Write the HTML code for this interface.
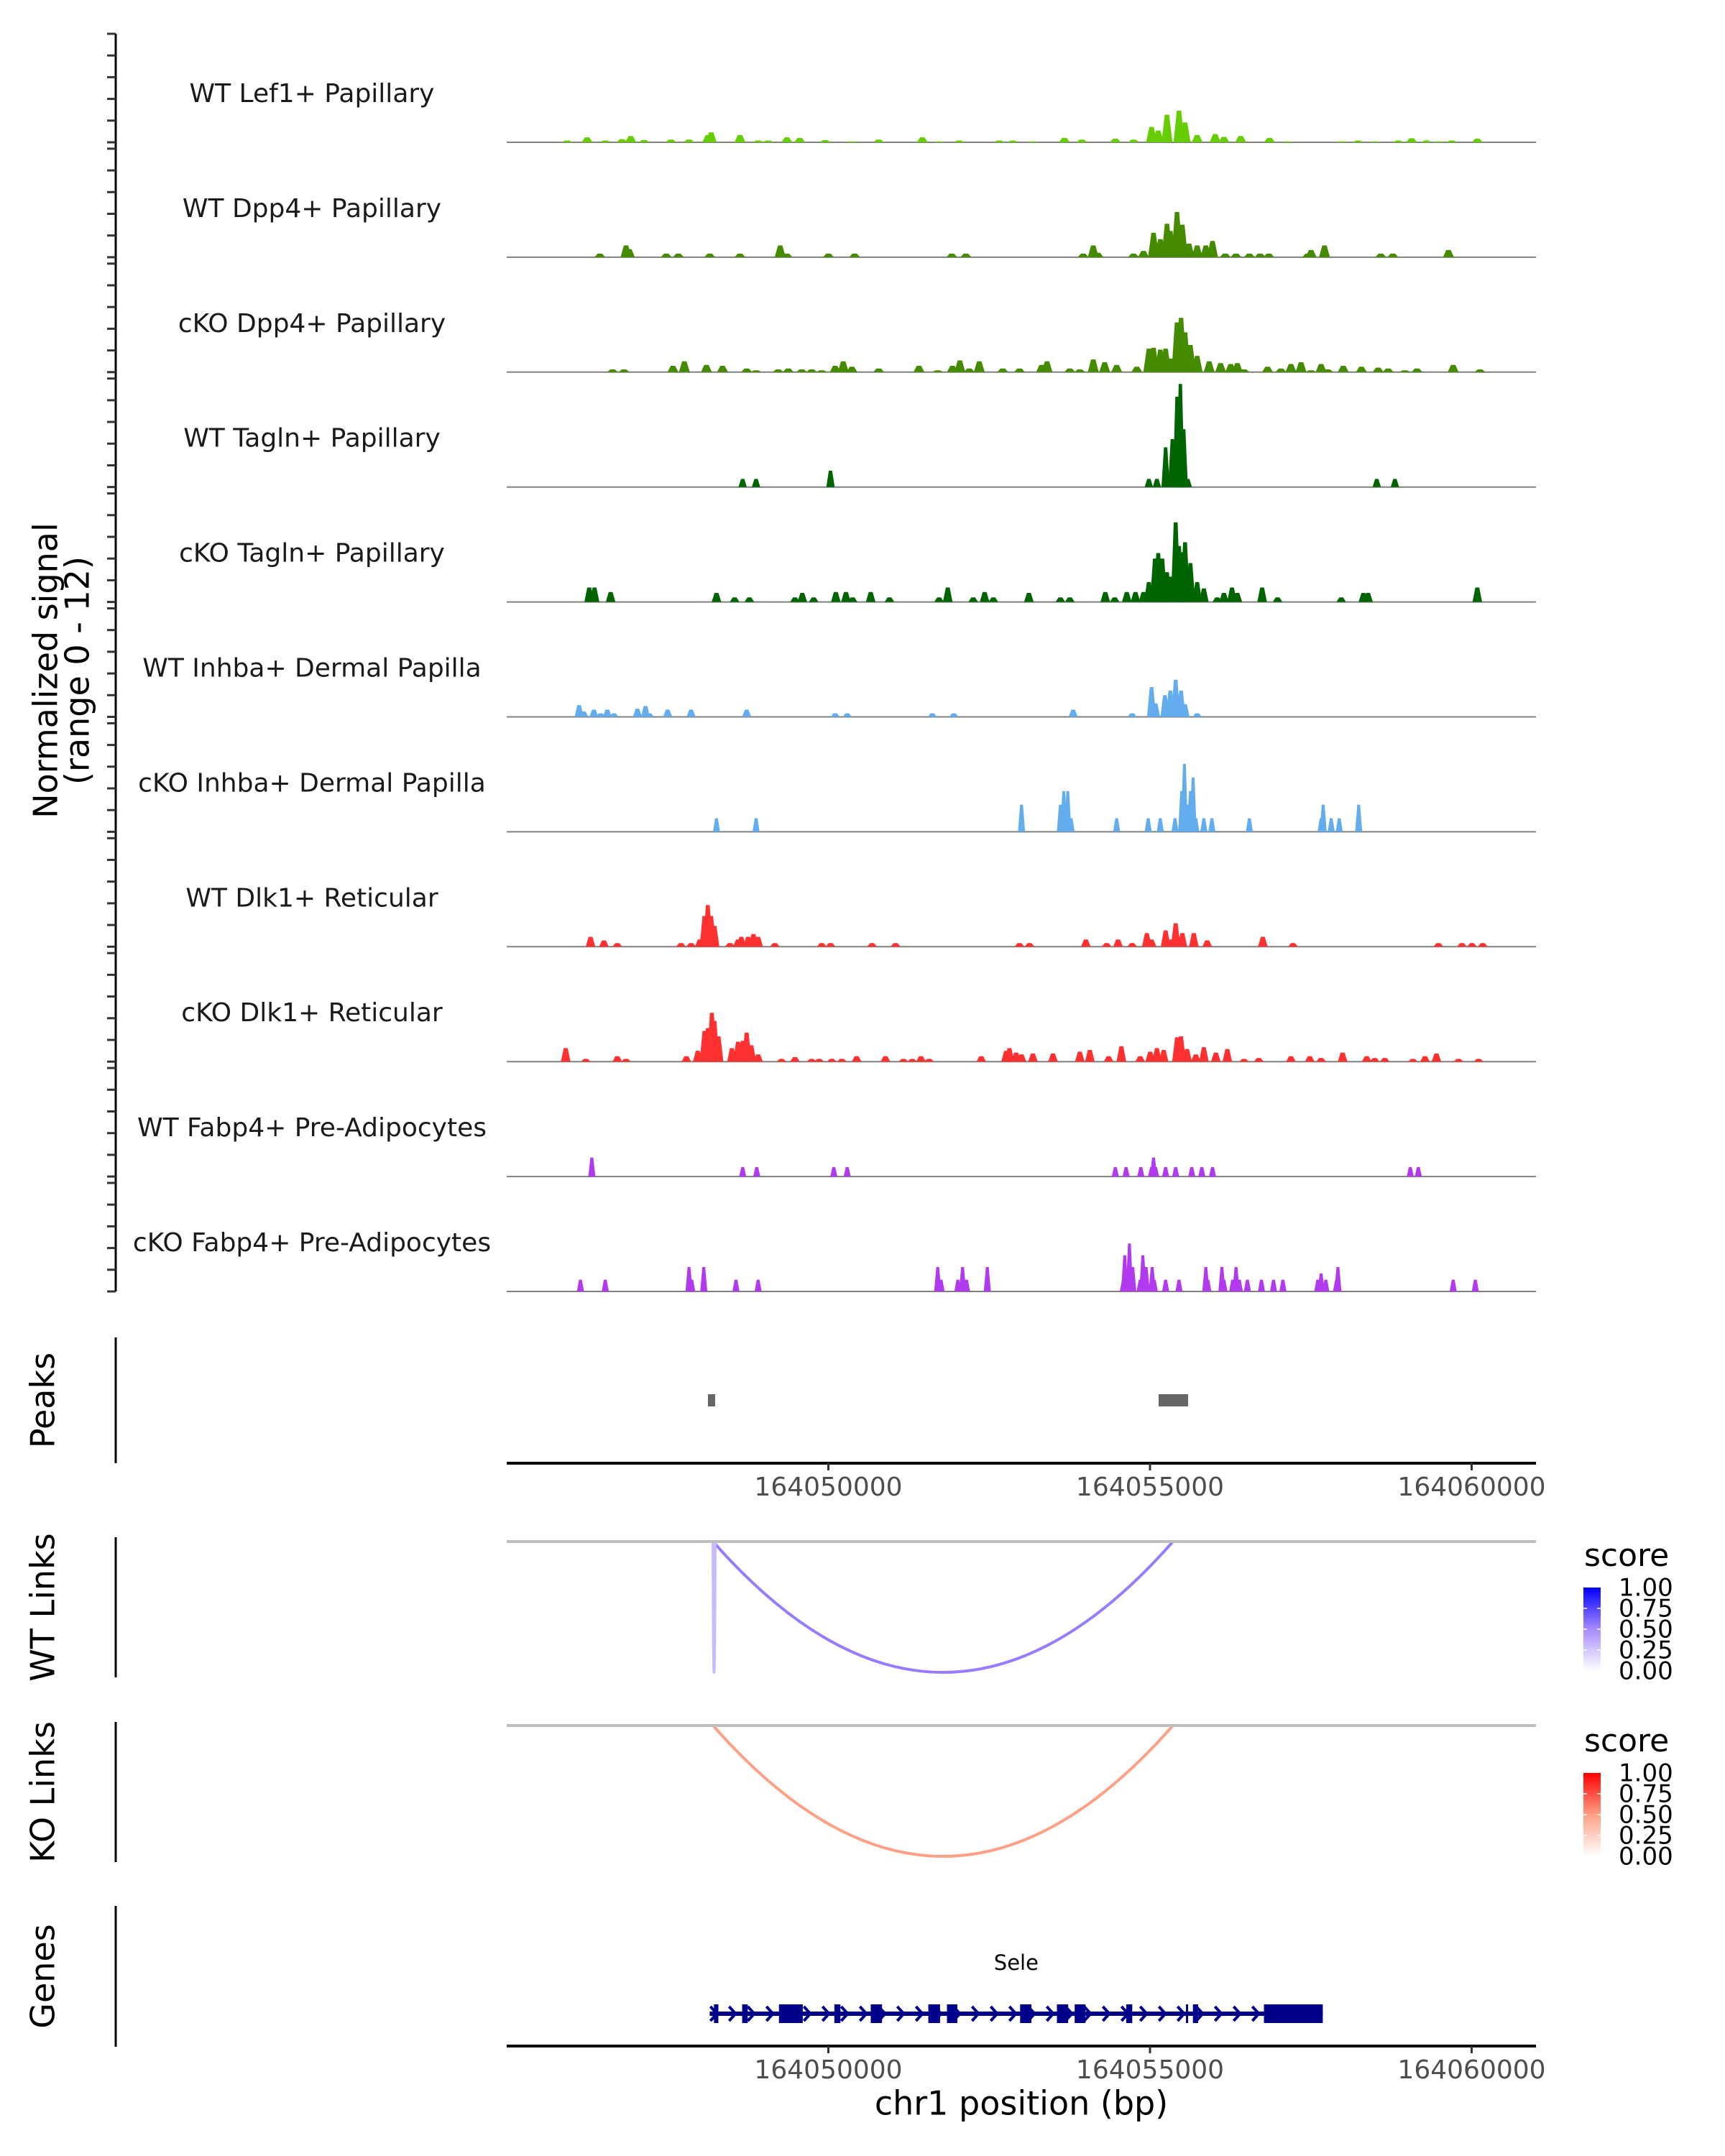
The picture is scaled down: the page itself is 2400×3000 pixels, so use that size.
<!DOCTYPE html>
<html><head><meta charset="utf-8"><title>Sele locus coverage</title>
<style>
html,body{margin:0;padding:0;background:#fff;}
svg{display:block;font-family:"DejaVu Sans","Liberation Sans",sans-serif;}
</style></head>
<body>
<svg id="chart" width="2400" height="3000" viewBox="0 0 2400 3000" xmlns="http://www.w3.org/2000/svg">
<defs>
<linearGradient id="gradBlue" x1="0" y1="1" x2="0" y2="0">
<stop offset="0" stop-color="#ffffff"/><stop offset="0.5" stop-color="#a88aff"/><stop offset="1" stop-color="#0000ff"/>
</linearGradient>
<linearGradient id="gradRed" x1="0" y1="1" x2="0" y2="0">
<stop offset="0" stop-color="#ffffff"/><stop offset="0.5" stop-color="#ff9f85"/><stop offset="1" stop-color="#ff0000"/>
</linearGradient>
</defs>
<g id="tracks"></g>
<g id="lower"></g>
</svg>
<script>
// ---- region / axis ----
const REGION_START = 164045000;
const REGION_END = 164061000;
const xTicks = [164050000, 164055000, 164060000];
const SIGNAL_MAX = 12;

// ---- track names ----
const trackNames = ["WT Lef1+ Papillary","WT Dpp4+ Papillary","cKO Dpp4+ Papillary","WT Tagln+ Papillary","cKO Tagln+ Papillary","WT Inhba+ Dermal Papilla","cKO Inhba+ Dermal Papilla","WT Dlk1+ Reticular","cKO Dlk1+ Reticular","WT Fabp4+ Pre-Adipocytes","cKO Fabp4+ Pre-Adipocytes"];

// ---- signal peaks: positions (bp from region start) and heights (normalized signal) ----
const pos1 = [938,1250,1532,1792,1928,2136,2553,2834,3126,3178,3626,3908,4064,4356,4554,4950,5366,5783,6460,6721,7034,7659,7867,8180,8669,8940,9461,9743,10024,10128,10264,10451,10545,10733,11014,11149,11410,11858,12139,12973,13233,13494,13859,14067,14296,14484,14692,15088];
const val1 = [0.2,0.55,0.2,0.35,0.7,0.25,0.3,0.3,0.8,1.1,0.8,0.2,0.2,0.55,0.5,0.25,0.1,0.3,0.55,0.1,0.2,0.2,0.2,0.1,0.5,0.3,0.4,0.3,1.7,1.3,3.05,3.5,2.2,0.8,0.9,0.6,0.7,0.5,0.1,0.1,0.2,0.1,0.2,0.45,0.2,0.1,0.2,0.4];
const pos2 = [1448,1855,1907,2480,2668,3157,3626,4251,4356,5002,5408,6919,7138,8961,9118,9190,9743,9899,10055,10160,10264,10316,10420,10503,10608,10733,10868,10972,11170,11337,11545,11712,11848,12452,12504,12712,13588,13775,14640];
const val2 = [0.4,1.3,0.9,0.4,0.4,0.4,0.4,1.3,0.4,0.4,0.4,0.4,0.4,0.4,1.3,0.5,0.4,0.7,2.7,2.0,3.7,2.9,5.0,3.6,1.5,1.3,1.3,1.8,0.4,0.4,0.4,0.4,0.4,0.4,0.8,1.3,0.4,0.4,0.8];
const pos3 = [1646,1824,2584,2761,3105,3355,3730,3876,4220,4376,4585,4741,4897,5106,5231,5366,5783,6408,6700,6929,7044,7190,7346,7711,7971,8315,8399,8753,8909,9118,9295,9482,9795,9982,10055,10160,10243,10316,10420,10483,10545,10628,10733,10920,11097,11254,11358,11462,11827,12035,12191,12348,12504,12660,12765,13004,13286,13546,13702,13963,14150,14713,15130];
const val3 = [0.3,0.3,0.7,1.2,0.8,0.7,0.4,0.2,0.3,0.4,0.3,0.3,0.2,0.7,1.2,0.6,0.4,0.7,0.2,0.7,1.3,0.4,1.2,0.4,0.4,0.8,1.2,0.4,0.3,1.4,1.1,0.8,0.6,2.6,2.7,2.5,2.6,1.5,5.5,6.0,4.4,3.0,1.8,1.2,1.0,0.9,1.0,0.3,0.6,0.4,0.9,1.1,0.2,0.9,0.3,0.7,0.6,0.5,0.4,0.2,0.4,0.8,0.3];
const pos4 = [3668,3876,5033,9982,10107,10243,10347,10420,10472,10524,10587,13525,13807];
const val4 = [0.9,0.9,1.8,0.9,0.9,4.4,5.3,10,11.4,6.4,0.9,0.9,0.9];
const pos5 = [1282,1365,1615,3261,3543,3772,4481,4595,4772,5116,5273,5377,5658,5950,6721,6856,7252,7429,7565,8117,8607,8753,9305,9451,9639,9774,9899,9982,10076,10128,10191,10264,10316,10399,10451,10503,10545,10628,10733,10837,11045,11149,11274,11358,11743,11983,12973,13317,13390,15088];
const val5 = [1.6,1.6,1.1,1.0,0.5,0.5,0.5,1.0,0.5,1.1,1.1,0.5,1.1,0.5,0.5,1.6,0.5,1.1,0.5,1.0,0.5,0.5,1.1,0.5,1.1,1.1,1.1,2.2,4.8,5.4,4.8,3.3,2.8,8.8,6.2,5.5,6.6,4.3,2.2,1.5,0.5,1.0,1.6,1.0,1.6,0.5,0.5,1.0,1.0,1.6];
const pos6 = [1125,1198,1355,1459,1563,1667,2032,2157,2219,2501,2866,3730,5106,5293,6617,6950,8805,9722,10024,10087,10232,10316,10399,10483,10545,10733];
const val6 = [1.3,0.6,0.8,0.4,0.8,0.4,0.9,1.2,0.4,0.8,0.8,0.8,0.4,0.4,0.4,0.4,0.8,0.4,3.3,1.5,2.4,2.9,4.1,2.9,1.4,0.4];
const pos7 = [3261,3876,8003,8607,8659,8722,8774,9482,9972,10160,10389,10493,10535,10587,10628,10670,10712,10837,10962,11545,12660,12692,12817,12942,13244];
const val7 = [1.5,1.5,3.0,3.0,4.5,4.5,1.5,1.5,1.5,1.5,1.5,4.5,7.5,3.0,4.5,6.0,1.5,1.5,1.5,1.5,1.5,3.0,1.5,1.5,3.0];
const pos8 = [1303,1511,1719,2709,2866,3001,3074,3126,3178,3230,3470,3595,3647,3751,3835,3908,4168,4897,5033,5679,6044,7971,8128,9003,9326,9503,9722,9951,10024,10243,10316,10399,10503,10681,10889,11754,12223,14484,14849,15005,15172];
const val8 = [1.1,0.7,0.4,0.4,0.4,0.8,3.4,4.6,3.4,2.3,0.4,0.8,1.1,1.1,1.4,1.1,0.4,0.4,0.4,0.4,0.4,0.4,0.4,0.8,0.4,0.8,0.4,1.5,0.8,1.8,0.8,2.6,1.5,1.5,0.7,1.1,0.4,0.4,0.4,0.4,0.4];
const pos9 = [917,1230,1719,1855,2793,2970,3074,3126,3189,3230,3293,3501,3595,3668,3730,3803,3908,4272,4481,4741,4856,5054,5210,5439,5887,6169,6304,6440,6565,7377,7763,7815,7919,8003,8180,8492,8909,9065,9357,9555,9847,10003,10107,10212,10420,10483,10576,10712,10837,11024,11202,11462,11691,12191,12483,12660,12994,13369,13494,13650,14088,14275,14453,14796,15109];
const val9 = [1.5,0.3,0.6,0.3,0.6,1.2,3.4,3.7,5.4,4.5,2.8,1.5,2.2,2.3,3.2,1.8,0.8,0.3,0.5,0.3,0.3,0.3,0.3,0.6,0.6,0.3,0.3,0.6,0.3,0.6,1.2,1.5,1.0,0.8,0.9,0.9,1.1,1.3,0.6,1.7,0.6,1.1,1.5,1.3,2.7,2.8,1.4,0.8,1.6,1.0,1.4,0.3,0.4,0.6,0.6,0.4,1.0,0.6,0.4,0.4,0.3,0.6,0.9,0.3,0.3];
const pos10 = [1323,3668,3887,5085,5293,9461,9628,9857,10024,10055,10087,10243,10399,10649,10806,10972,14046,14171];
const val10 = [2.1,1.05,1.05,1.05,1.05,1.05,1.05,1.05,1.05,2.1,1.05,1.05,1.05,1.05,1.05,1.05,1.05,1.05];
const pos11 = [1146,1532,2834,2876,3063,3564,3908,6700,6752,7013,7086,7148,7471,9586,9607,9680,9732,9847,9889,9941,10034,10066,10243,10451,10868,10899,11118,11149,11285,11337,11389,11514,11733,11920,12066,12608,12660,12733,12900,12921,14713,15057];
const val11 = [1.3,1.3,2.7,1.3,2.7,1.3,1.3,2.7,1.3,1.3,2.7,1.3,2.7,1.3,4.0,5.3,2.7,1.3,4.0,2.7,2.7,1.3,1.3,1.3,2.7,1.3,2.7,1.3,1.3,2.7,1.3,1.3,1.3,1.3,1.3,1.3,2.0,1.3,1.3,2.7,1.3,1.3];

// ---- peaks / links / gene (bp from region start) ----
const peakStarts = [3128, 10134];
const peakEnds = [3240, 10592];
const wtLinkStarts = [3207, 3207];
const wtLinkEnds = [10357, 3240];
const wtLinkScores = [0.55, 0.3];
const koLinkStarts = [3207];
const koLinkEnds = [10357];
const koLinkScores = [0.5];
const geneName = "Sele";
const geneStart = 3155, geneEnd = 12686;
const exonStarts = [3222,3660,4232,5093,5659,6554,6844,7981,8553,8829,9630,10559,10667,11771];
const exonEnds   = [3290,3747,4602,5188,5834,6736,7005,8156,8728,8997,9724,10586,10748,12686];
const scoreTicks = ["1.00","0.75","0.50","0.25","0.00"];

// ---- layout ----
const NS = "http://www.w3.org/2000/svg";
const X0 = 705, PXPERBP = 0.0895;
function xScale(off){ return X0 + off*PXPERBP; }
function xScaleAbs(bp){ return xScale(bp - REGION_START); }
const X1 = xScaleAbs(REGION_END);
const TRACK_TOP0 = 47, TRACK_PERIOD = 159.9, TRACK_H = 151;
function mk(tag, attrs, parent){ const e=document.createElementNS(NS,tag); for(const k in attrs) e.setAttribute(k,attrs[k]); parent.appendChild(e); return e; }

const tracks = document.getElementById('tracks');
const lower = document.getElementById('lower');
const trackPos = [pos1,pos2,pos3,pos4,pos5,pos6,pos7,pos8,pos9,pos10,pos11];
const trackVal = [val1,val2,val3,val4,val5,val6,val7,val8,val9,val10,val11];
const trackColors = ["#66cd00","#458b00","#458b00","#006400","#006400","#63adee","#63adee","#ff3030","#ff3030","#b23aee","#b23aee"];
const trackWidths = [170,170,170,130,150,140,110,150,150,110,110];

// left signal axis
const yAxisBottom = TRACK_TOP0 + 10*TRACK_PERIOD + TRACK_H;
const ax = mk('line',{x1:161,y1:TRACK_TOP0,x2:161,y2:yAxisBottom,stroke:'#000','stroke-width':3},tracks);



trackNames.forEach((name,i)=>{
  const top = TRACK_TOP0 + i*TRACK_PERIOD, base = top + TRACK_H;
  const g = mk('g',{},tracks);
  
  
  for(let k=0;k<=5;k++){
    const ty = top + k*TRACK_H/5;
    const t = mk('line',{x1:149,y1:ty,x2:161,y2:ty,stroke:'#333','stroke-width':3},g);
    
    
  }
  const lab = mk('text',{x:434,y:base-66,'font-size':36,'text-anchor':'middle','dominant-baseline':'middle',fill:'#1a1a1a'},g);
  lab.textContent = name;
  
  
  const bl = mk('line',{x1:X0,y1:base,x2:X1,y2:base,stroke:'#808080','stroke-width':2},g);
  
  
  const pxu = TRACK_H/SIGNAL_MAX, w = trackWidths[i];
  trackPos[i].forEach((p,j)=>{
    const h = trackVal[i][j]*pxu;
    const xl = xScale(p-w/2), xr = xScale(p+w/2), tl = xScale(p-w/5), tr = xScale(p+w/5);
    const poly = mk('polygon',{points:`${xl},${base} ${tl},${base-h} ${tr},${base-h} ${xr},${base}`,fill:trackColors[i]},g);
    
    
  });
});

// y axis title
const yt = mk('text',{transform:'translate(67,933) rotate(-90)','font-size':46,'text-anchor':'middle','dominant-baseline':'middle',fill:'#000'},tracks);
yt.textContent='Normalized signal';


const yt2 = mk('text',{transform:'translate(111,933) rotate(-90)','font-size':46,'text-anchor':'middle','dominant-baseline':'middle',fill:'#000'},tracks);
yt2.textContent='(range 0 - 12)';



function panelLabel(text,y1,y2,name){
  const l = mk('line',{x1:161,y1:y1,x2:161,y2:y2,stroke:'#000','stroke-width':3},lower);
  
  
  const t = mk('text',{transform:`translate(63,${(y1+y2)/2}) rotate(-90)`,'font-size':46,'text-anchor':'middle','dominant-baseline':'middle',fill:'#000'},lower);
  t.textContent=text;
  
  
}
function xAxis(y,name){
  const l = mk('line',{x1:X0,y1:y,x2:X1,y2:y,stroke:'#000','stroke-width':4},lower);
  
  
  xTicks.forEach(v=>{
    const x = xScaleAbs(v);
    const tk = mk('line',{x1:x,y1:y,x2:x,y2:y+10,stroke:'#333','stroke-width':3},lower);
    
    
    const tl = mk('text',{x:x,y:y+35,'font-size':36,'text-anchor':'middle','dominant-baseline':'middle',fill:'#4d4d4d'},lower);
    tl.textContent = String(v);
    
    
  });
}

// Peaks panel
panelLabel('Peaks',1861,2036,'peaks');
peakStarts.forEach((s,i)=>{
  const r = mk('rect',{x:xScale(s),y:1940,width:xScale(peakEnds[i])-xScale(s),height:17,fill:'#666'},lower);
  
  
});
xAxis(2036,'peaks-x-axis');

// Links
function mixColor(score, mid, high){
  const lo=[255,255,255];
  let a,b,t;
  if(score<=0.5){a=lo;b=mid;t=score/0.5;} else {a=mid;b=high;t=(score-0.5)/0.5;}
  return `rgb(${a.map((v,k)=>Math.round(v+(b[k]-v)*t)).join(',')})`;
}
function linksPanel(label,name,yTop,yAx1,yAx2,starts,ends,scores,mid,high,grad,legY){
  panelLabel(label,yAx1,yAx2,name);
  const depth = 182;
  starts.forEach((s,i)=>{
    const xa=xScale(s), xb=xScale(ends[i]);
    const p = mk('path',{d:`M${xa},${yTop} Q${(xa+xb)/2},${yTop+2*depth} ${xb},${yTop}`,fill:'none',stroke:mixColor(scores[i],mid,high),'stroke-width':4},lower);
    
    
  });
  const gl = mk('line',{x1:X0,y1:yTop,x2:X1,y2:yTop,stroke:'#bebebe','stroke-width':4},lower);
  
  
  const lg = mk('g',{},lower);
  
  
  const st = mk('text',{x:2204,y:legY,'font-size':44,'dominant-baseline':'middle',fill:'#000'},lg);
  st.textContent='score';
  
  
  const barTop = legY+42, barH = 116;
  const bar = mk('rect',{x:2203,y:barTop,width:24,height:barH,fill:`url(#${grad})`},lg);
  
  
  scoreTicks.forEach((s,k)=>{
    const ty = barTop + k*barH/4;
    if(k>0 && k<4){
      mk('line',{x1:2203,y1:ty,x2:2208,y2:ty,stroke:'#fff','stroke-width':1.5},lg);
      mk('line',{x1:2222,y1:ty,x2:2227,y2:ty,stroke:'#fff','stroke-width':1.5},lg);
    }
    const t = mk('text',{x:2252,y:ty+2,'font-size':34,'dominant-baseline':'middle',fill:'#000'},lg);
    t.textContent=s;
    
    
  });
}
linksPanel('WT Links','wt-links',2145,2139,2334,wtLinkStarts,wtLinkEnds,wtLinkScores,[168,138,255],[0,0,255],'gradBlue',2167);
linksPanel('KO Links','ko-links',2401,2396,2591,koLinkStarts,koLinkEnds,koLinkScores,[255,159,133],[255,0,0],'gradRed',2425);

// Genes
panelLabel('Genes',2652,2848,'genes');
const gy = 2802;
const gg = mk('g',{},lower);


const gl = mk('line',{x1:xScale(geneStart),y1:gy,x2:xScale(geneEnd),y2:gy,stroke:'#00008b','stroke-width':6},gg);


for(let x=xScale(geneStart)+6; x<xScale(geneEnd); x+=26){
  const c = mk('polyline',{points:`${x-5},${gy-10} ${x+4},${gy} ${x-5},${gy+10}`,fill:'none',stroke:'#00008b','stroke-width':4},gg);
  
  
}
exonStarts.forEach((s,i)=>{
  const r = mk('rect',{x:xScale(s),y:gy-13,width:Math.max(3,xScale(exonEnds[i])-xScale(s)),height:26,fill:'#00008b'},gg);
  
  
});
const gn = mk('text',{x:(xScale(geneStart)+xScale(geneEnd))/2,y:2733,'font-size':29,'text-anchor':'middle','dominant-baseline':'middle',fill:'#000'},gg);
gn.textContent = geneName;


xAxis(2847,'genes-x-axis');
const xt = mk('text',{x:(X0+X1)/2,y:2930,'font-size':46,'text-anchor':'middle','dominant-baseline':'middle',fill:'#000'},lower);
xt.textContent='chr1 position (bp)';


</script>
</body></html>
